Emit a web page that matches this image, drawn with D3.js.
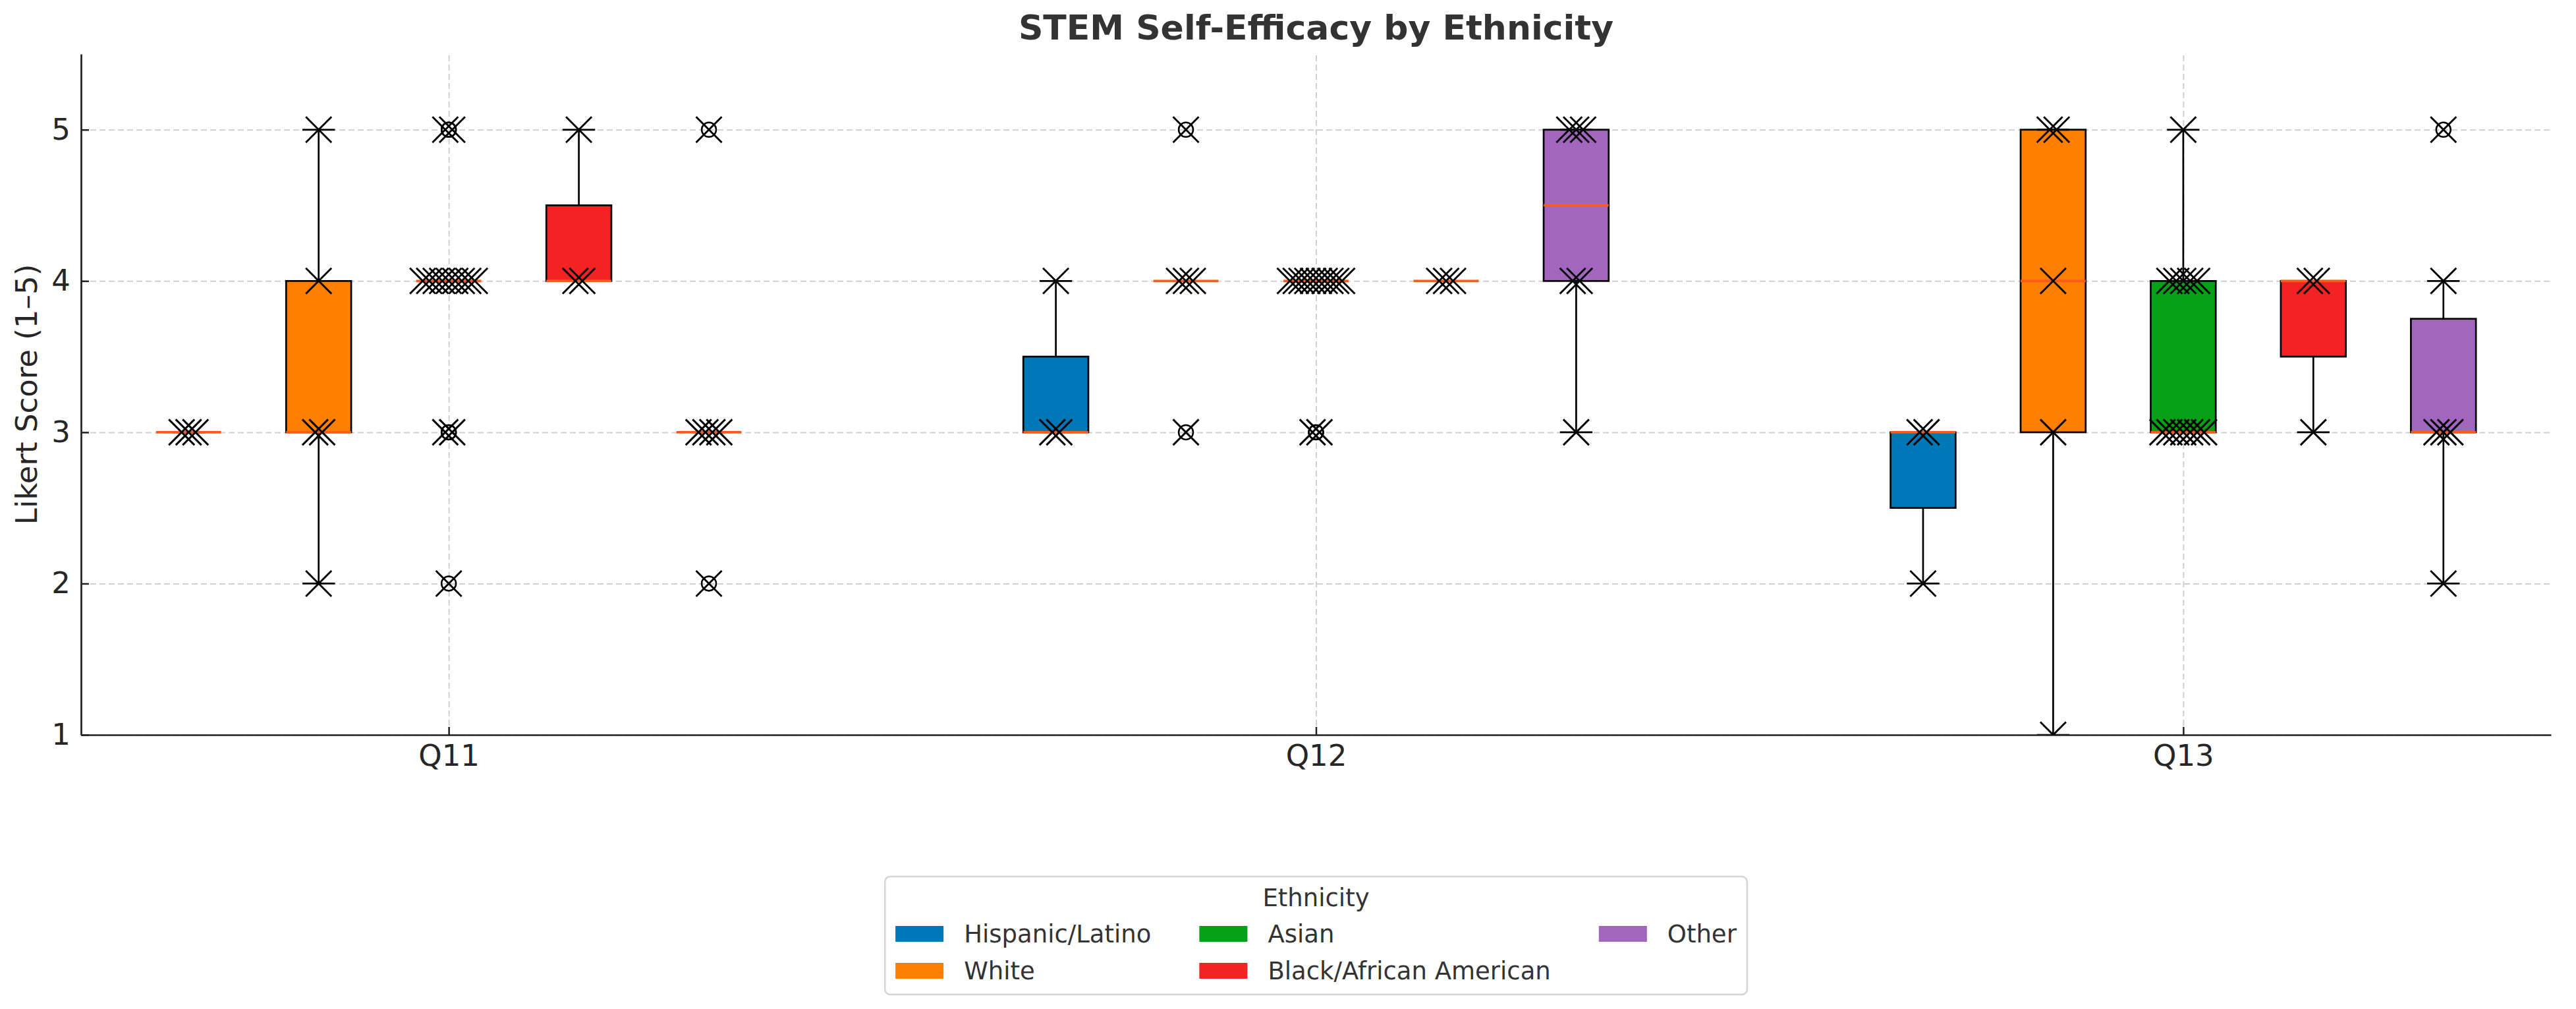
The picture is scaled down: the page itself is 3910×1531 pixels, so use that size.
<!DOCTYPE html>
<html>
<head>
<meta charset="utf-8">
<script src="https://cdn.jsdelivr.net/npm/d3@7"></script>
<style>
  body { margin: 0; background: #ffffff; }
  svg { display: block; font-family: "DejaVu Sans", sans-serif; }
</style>
</head>
<body>
<div id="chart"></div>
<script>
// Categories and tick labels
const questions = ["Q11", "Q12", "Q13"];
const ethnicities = ["Hispanic/Latino", "White", "Asian", "Black/African American", "Other"];
const ethnicityColors = ["#0077b6", "#ff8000", "#03a018", "#f42323", "#a266be"];
const yTicks = [1, 2, 3, 4, 5];

// Individual responses per ethnicity, one list per question (Q11, Q12, Q13)
const hispanicScores = [[3, 3, 3], [3, 3, 4], [2, 3, 3]];
const whiteScores = [[2, 3, 3, 4, 5], [3, 4, 4, 4, 5], [1, 3, 4, 5, 5]];
const asianScores = [
    [2, 3, 3, 4, 4, 4, 4, 4, 4, 4, 4, 4, 5, 5],
    [3, 3, 4, 4, 4, 4, 4, 4, 4, 4, 4, 4],
    [3, 3, 3, 3, 3, 3, 3, 4, 4, 4, 4, 4, 5]
];
const blackScores = [[4, 4, 5], [4, 4, 4], [3, 4, 4]];
const otherScores = [[2, 3, 3, 3, 3, 5], [3, 4, 4, 5, 5, 5], [2, 3, 3, 3, 4, 5]];

const scoresByEthnicity = [hispanicScores, whiteScores, asianScores, blackScores, otherScores];

const W = 3910, H = 1531;
const plot = { left: 123, right: 3872, top: 82, bottom: 1115 };
const boxWidth = 0.075;
const textColor = "#262626";

const svg = d3.select("#chart")
    .append("svg")
    .attr("width", W)
    .attr("height", H);

// Marks are clipped to the plotting area
svg.append("defs").append("clipPath")
    .attr("id", "plot-clip")
    .append("rect")
    .attr("x", plot.left)
    .attr("y", plot.top)
    .attr("width", plot.right - plot.left)
    .attr("height", plot.bottom - plot.top);

// Scales
const x = d3.scaleLinear().domain([0.576, 3.424]).range([plot.left, plot.right]);
const y = d3.scaleLinear().domain([1, 5.5]).range([plot.bottom, plot.top]);
const offset = d3.scalePoint().domain(ethnicities).range([-0.3, 0.3]);
const color = d3.scaleOrdinal().domain(ethnicities).range(ethnicityColors);

// Grid lines
svg.append("g")
    .attr("transform", `translate(0,${plot.bottom})`)
    .call(d3.axisBottom(x).tickValues([1, 2, 3]).tickSize(-(plot.bottom - plot.top)).tickFormat(""))
    .call(g => g.select(".domain").remove())
    .call(g => g.selectAll("line").attr("stroke", "#cfcfcf").attr("stroke-width", 2).attr("stroke-dasharray", "9,5"));

svg.append("g")
    .attr("transform", `translate(${plot.left},0)`)
    .call(d3.axisLeft(y).tickValues(yTicks).tickSize(-(plot.right - plot.left)).tickFormat(""))
    .call(g => g.select(".domain").remove())
    .call(g => g.selectAll("line").attr("stroke", "#cfcfcf").attr("stroke-width", 2).attr("stroke-dasharray", "9,5"));

// Box statistics (linear quantiles, 1.5 IQR whiskers)
function boxStats(values) {
    const v = values.slice().sort(d3.ascending);
    const q1 = d3.quantile(v, 0.25);
    const median = d3.quantile(v, 0.5);
    const q3 = d3.quantile(v, 0.75);
    const iqr = q3 - q1;
    const inside = v.filter(d => d >= q1 - 1.5 * iqr && d <= q3 + 1.5 * iqr);
    const lo = inside.length ? d3.min(inside) : q1;
    const hi = inside.length ? d3.max(inside) : q3;
    const fliers = v.filter(d => d < q1 - 1.5 * iqr || d > q3 + 1.5 * iqr);
    return { q1, median, q3, lo: Math.min(lo, q1), hi: Math.max(hi, q3), fliers, values: v };
}

const groups = [];
questions.forEach((q, qi) => {
    ethnicities.forEach((eth, ei) => {
        const stats = boxStats(scoresByEthnicity[ei][qi]);
        groups.push({ question: q, ethnicity: eth, pos: qi + 1 + offset(eth), ...stats });
    });
});

const halfBox = x(boxWidth / 2) - x(0);
const halfCap = x(boxWidth / 4) - x(0);

const boxes = svg.append("g")
    .attr("clip-path", "url(#plot-clip)")
    .selectAll("g")
    .data(groups)
    .join("g");

boxes.append("rect")
    .attr("x", d => x(d.pos) - halfBox)
    .attr("width", halfBox * 2)
    .attr("y", d => y(d.q3))
    .attr("height", d => y(d.q1) - y(d.q3))
    .attr("fill", d => color(d.ethnicity))
    .attr("stroke", "#000")
    .attr("stroke-width", 2.7);

// Whiskers
boxes.append("line")
    .attr("x1", d => x(d.pos)).attr("x2", d => x(d.pos))
    .attr("y1", d => y(d.q1)).attr("y2", d => y(d.lo))
    .attr("stroke", "#000").attr("stroke-width", 2.7);
boxes.append("line")
    .attr("x1", d => x(d.pos)).attr("x2", d => x(d.pos))
    .attr("y1", d => y(d.q3)).attr("y2", d => y(d.hi))
    .attr("stroke", "#000").attr("stroke-width", 2.7);

// Caps
boxes.append("line")
    .attr("x1", d => x(d.pos) - halfCap).attr("x2", d => x(d.pos) + halfCap)
    .attr("y1", d => y(d.lo)).attr("y2", d => y(d.lo))
    .attr("stroke", "#000").attr("stroke-width", 2.7);
boxes.append("line")
    .attr("x1", d => x(d.pos) - halfCap).attr("x2", d => x(d.pos) + halfCap)
    .attr("y1", d => y(d.hi)).attr("y2", d => y(d.hi))
    .attr("stroke", "#000").attr("stroke-width", 2.7);

// Medians
boxes.append("line")
    .attr("x1", d => x(d.pos) - halfBox).attr("x2", d => x(d.pos) + halfBox)
    .attr("y1", d => y(d.median)).attr("y2", d => y(d.median))
    .attr("stroke", "#fc5a1f").attr("stroke-width", 3.6);

// Axes (spines with inward ticks)
const xAxis = svg.append("g")
    .attr("transform", `translate(0,${plot.bottom})`)
    .call(d3.axisBottom(x).tickValues([1, 2, 3]).tickFormat((d, i) => questions[i])
        .tickSizeInner(-12).tickSizeOuter(0).tickPadding(15));
const yAxis = svg.append("g")
    .attr("transform", `translate(${plot.left},0)`)
    .call(d3.axisLeft(y).tickValues(yTicks).tickFormat(d3.format("d"))
        .tickSizeInner(-12).tickSizeOuter(0).tickPadding(16));

[xAxis, yAxis].forEach(ax => {
    ax.select(".domain").attr("stroke", "#222").attr("stroke-width", 2.7);
    ax.selectAll(".tick line").attr("stroke", "#222").attr("stroke-width", 2.5);
    ax.selectAll(".tick text")
        .attr("fill", textColor)
        .style("font-family", "DejaVu Sans")
        .style("font-size", "45px");
});

// Points layer above the spines, still clipped to the plot area
const points = svg.append("g")
    .attr("clip-path", "url(#plot-clip)")
    .selectAll("g")
    .data(groups)
    .join("g");

// Fliers
points.selectAll("circle.flier")
    .data(d => d.fliers.map(v => ({ pos: d.pos, value: v })))
    .join("circle")
    .attr("class", "flier")
    .attr("cx", d => x(d.pos))
    .attr("cy", d => y(d.value))
    .attr("r", 11)
    .attr("fill", "none")
    .attr("stroke", "#000")
    .attr("stroke-width", 2.5);

// Individual responses as x markers, spread around the box centre
function spreadPoints(d) {
    const counts = d3.rollup(d.values, v => v.length, v => v);
    const seen = new Map();
    return d.values.map(v => {
        const k = counts.get(v);
        const j = seen.get(v) || 0;
        seen.set(v, j + 1);
        const step = k > 1 ? Math.min(0.008, 0.06 / (k - 1)) : 0;
        return { pos: d.pos + (j - (k - 1) / 2) * step, value: v };
    });
}

const xr = 19.5;
points.selectAll("path.pt")
    .data(spreadPoints)
    .join("path")
    .attr("class", "pt")
    .attr("transform", d => `translate(${x(d.pos)},${y(d.value)})`)
    .attr("d", `M${-xr},${-xr}L${xr},${xr}M${-xr},${xr}L${xr},${-xr}`)
    .attr("fill", "none")
    .attr("stroke", "#000")
    .attr("stroke-width", 2.9);

// Title and axis label
svg.append("text")
    .attr("x", (plot.left + plot.right) / 2)
    .attr("y", 60)
    .attr("text-anchor", "middle")
    .attr("fill", "#333")
    .style("font-size", "52px")
    .style("font-weight", "bold")
    .text("STEM Self-Efficacy by Ethnicity");

svg.append("text")
    .attr("transform", `translate(56,${(plot.top + plot.bottom) / 2}) rotate(-90)`)
    .attr("text-anchor", "middle")
    .attr("fill", textColor)
    .style("font-size", "45px")
    .text("Likert Score (1–5)");

// Legend (3 columns, filled column by column)
const legendFont = 37;
const handleW = 73, handleH = 24, handlePad = 31, colSpacing = 73, borderPad = 16;
const legend = svg.append("g");

const legendItems = ethnicities.map((eth, i) => ({ eth, col: Math.floor(i / 2), row: i % 2 }));
const labels = legend.selectAll("text.item")
    .data(legendItems)
    .join("text")
    .attr("class", "item")
    .attr("fill", "#333")
    .style("font-size", legendFont + "px")
    .attr("dominant-baseline", "central")
    .text(d => d.eth);

const nCols = 3;
const colText = d3.range(nCols).map(c => {
    let w = 0;
    labels.filter(d => d.col === c).each(function () { w = Math.max(w, this.getComputedTextLength()); });
    return w;
});
const colWidths = colText.map(w => handleW + handlePad + w);
const legendW = borderPad * 2 + d3.sum(colWidths) + colSpacing * (nCols - 1);
const legendX = (plot.left + plot.right) / 2 - legendW / 2;
const legendTop = 1330, legendBottom = 1509;
const rowY = [1417, 1473];
const colX = colWidths.map((w, c) => legendX + borderPad + d3.sum(colWidths.slice(0, c)) + colSpacing * c);

legend.insert("rect", "text")
    .attr("x", legendX)
    .attr("y", legendTop)
    .attr("width", legendW)
    .attr("height", legendBottom - legendTop)
    .attr("rx", 8)
    .attr("fill", "#fff")
    .attr("stroke", "#d4d4d4")
    .attr("stroke-width", 2.5);

legend.selectAll("rect.handle")
    .data(legendItems)
    .join("rect")
    .attr("class", "handle")
    .attr("x", d => colX[d.col])
    .attr("y", d => rowY[d.row] - handleH / 2)
    .attr("width", handleW)
    .attr("height", handleH)
    .attr("fill", d => color(d.eth));

labels
    .attr("x", d => colX[d.col] + handleW + handlePad)
    .attr("y", d => rowY[d.row]);

legend.append("text")
    .attr("x", legendX + legendW / 2)
    .attr("y", 1362)
    .attr("text-anchor", "middle")
    .attr("dominant-baseline", "central")
    .attr("fill", "#333")
    .style("font-size", legendFont + "px")
    .text("Ethnicity");
</script>
</body>
</html>
